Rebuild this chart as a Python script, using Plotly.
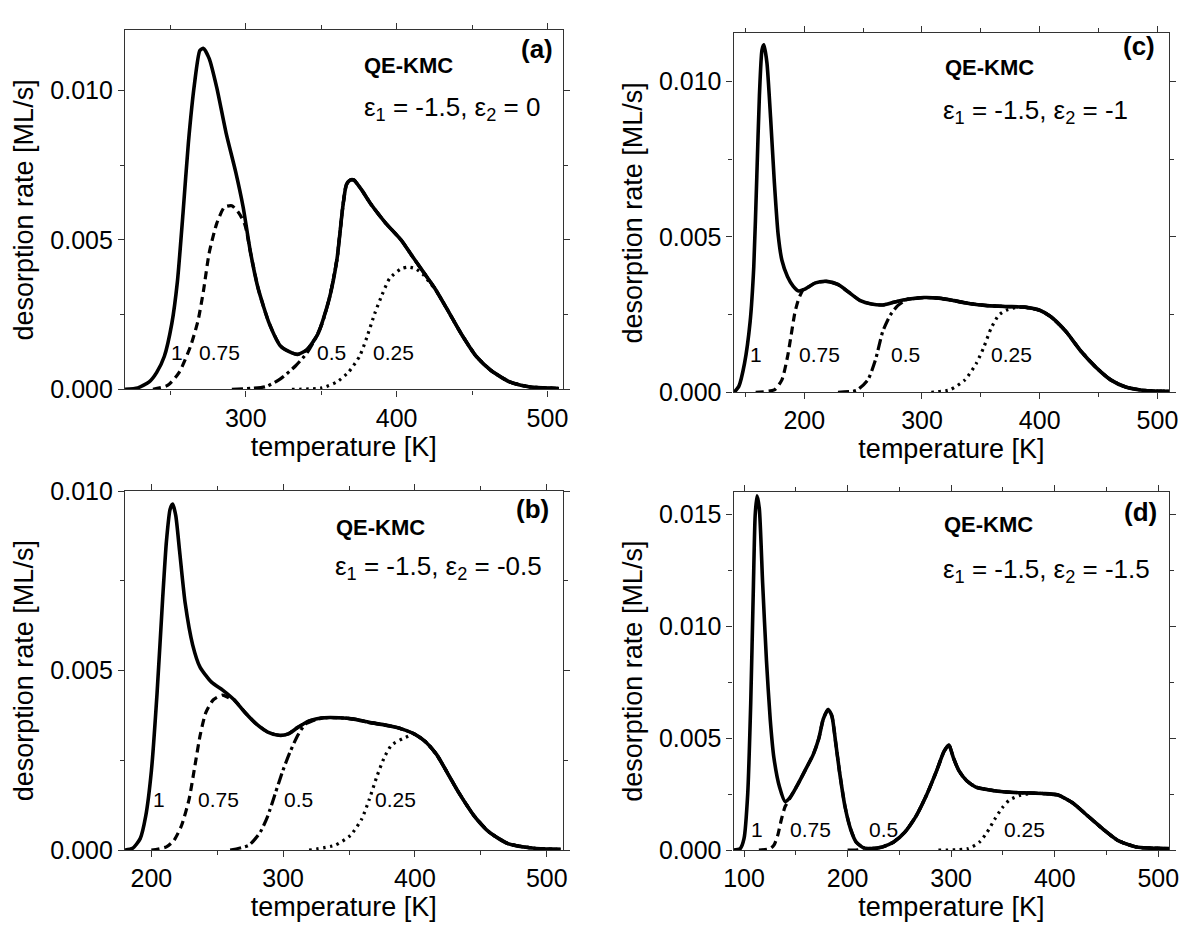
import plotly.graph_objects as go

FONT = "Liberation Sans, Arial, sans-serif"

# ---------------- panel (a): eps1=-1.5, eps2=0 ----------------
a_T_full = [219.8, 228.5, 236, 241, 246, 251, 254.7, 258.4, 262, 266, 269.6, 272, 275.8, 280.8, 287, 293.3,
            298.3, 303.2, 308.2, 315.7, 323.2, 330.6, 334.4, 340.6, 348, 355.5, 360.5, 364.3, 366.7, 369.2,
            371.7, 376.7, 382.9, 392.9, 402.9, 410.3, 417.8, 425.3, 432.8, 442.7, 452.7, 462.6, 475, 487.5, 507.5]
a_v_full = [0, 0.00005, 0.00025, 0.00057, 0.0011, 0.0022, 0.0036, 0.00587, 0.00825, 0.0102, 0.01133, 0.0114,
            0.01106, 0.01009, 0.00857, 0.00728, 0.00609, 0.00457, 0.00338, 0.00219, 0.00144, 0.00122, 0.00117,
            0.00133, 0.00187, 0.00306, 0.00436, 0.00609, 0.00684, 0.0070, 0.0070, 0.00668, 0.0062, 0.00555,
            0.0050, 0.00446, 0.00392, 0.00338, 0.00274, 0.00187, 0.00111, 0.00063, 0.00025, 0.00009, 0.00003]
a_T_075 = [238.5, 248.4, 255.9, 263.4, 268.4, 272, 275.8, 280.8, 285.8, 290.8, 295.8, 299.5]
a_v_075 = [0, 0.00014, 0.00057, 0.00144, 0.0023, 0.0033, 0.00457, 0.00555, 0.00609, 0.00614, 0.00587, 0.0055]
a_T_050 = [290.8, 313.2, 323.2, 333.1, 340.6, 345.6, 350.6]
a_v_050 = [0, 0.00009, 0.00036, 0.00079, 0.00122, 0.00165, 0.0022]
a_T_025 = [330.6, 350.6, 360.5, 368, 375.5, 380.4, 385.4, 390.4, 395.4, 402.9, 407.8, 412.8, 418, 423]
a_v_025 = [0, 0.00005, 0.00025, 0.00057, 0.00111, 0.00176, 0.00252, 0.00317, 0.00371, 0.00403, 0.00409,
           0.00403, 0.00382, 0.0035]

# ---------------- panel (c): eps1=-1.5, eps2=-1 ----------------
c_T_full = [140.3, 144.4, 149.2, 154, 157.1, 159.7, 161.9, 164.1, 165.7, 168.3, 171.4, 174.6, 177.8, 181,
            185.7, 190.5, 195.2, 200, 209.5, 219, 228.6, 238.1, 247.6, 257.1, 266.7, 276.2, 288.9, 301.6,
            314.3, 327, 339.7, 355.6, 371.4, 387.3, 400, 409.5, 422.2, 434.9, 447.6, 460.3, 473, 488.9, 510]
c_v_full = [0, 0.00019, 0.00092, 0.00227, 0.00404, 0.00696, 0.00956, 0.01102, 0.01118, 0.0106, 0.00883,
            0.00675, 0.00508, 0.00425, 0.00373, 0.00342, 0.00326, 0.00331, 0.00352, 0.00357, 0.00347,
            0.00321, 0.00295, 0.00284, 0.00281, 0.0029, 0.0030, 0.00305, 0.00303, 0.00295, 0.00286,
            0.00279, 0.00276, 0.00274, 0.00264, 0.00243, 0.00196, 0.00133, 0.00081, 0.0004, 0.00017,
            0.00006, 0.00003]
c_T_075 = [158.7, 174.6, 181, 185.7, 188.9, 192.1, 195.2, 199]
c_v_075 = [0, 0.00008, 0.0004, 0.00113, 0.00185, 0.00258, 0.0030, 0.0033]
c_T_050 = [228.6, 244.4, 254, 260.3, 266.7, 273, 279.4, 288]
c_v_050 = [0, 0.00006, 0.0004, 0.00102, 0.00196, 0.00248, 0.00279, 0.0030]
c_T_025 = [307.9, 323.8, 336.5, 346, 352.4, 358.7, 365.1, 371.4, 381, 386]
c_v_025 = [0, 0.00008, 0.0004, 0.00092, 0.00144, 0.00206, 0.00248, 0.00264, 0.00274, 0.00274]

# ---------------- panel (b): eps1=-1.5, eps2=-0.5 ----------------
b_T_full = [180, 185.8, 191.5, 195.7, 200, 204.3, 208.5, 211.4, 214.2, 216.2, 218.5, 221.4, 225.6, 231.3,
            237, 245.6, 254.1, 262.7, 271.2, 279.8, 288.3, 296.9, 304, 311.1, 319.7, 331.1, 342.5, 353.8,
            365.2, 376.6, 388, 399.4, 408, 416.5, 425.1, 433.6, 445, 456.4, 470.7, 490.6, 510.5]
b_v_full = [0, 0.00005, 0.00032, 0.00095, 0.00221, 0.00437, 0.00698, 0.0086, 0.0095, 0.00964, 0.00932,
            0.00833, 0.00689, 0.00572, 0.00509, 0.00468, 0.00446, 0.00419, 0.00383, 0.00351, 0.00329,
            0.0032, 0.00324, 0.00342, 0.0036, 0.00369, 0.00369, 0.00365, 0.00356, 0.00349, 0.0034,
            0.00324, 0.00302, 0.00266, 0.00212, 0.00158, 0.00095, 0.0005, 0.00018, 0.00005, 0.00002]
b_T_075 = [200, 211.4, 217.1, 222.8, 228.5, 232.8, 237, 241.3, 247, 254.1, 261]
b_v_075 = [0, 0.00009, 0.00027, 0.00068, 0.0014, 0.0023, 0.0032, 0.00383, 0.00419, 0.00432, 0.0042]
b_T_050 = [259.8, 274.1, 282.6, 288.3, 294, 299.7, 305.4, 311.1, 316.8, 322]
b_v_050 = [0, 0.00014, 0.0005, 0.00095, 0.00158, 0.00221, 0.00275, 0.0032, 0.00351, 0.0036]
b_T_025 = [319.7, 339.6, 351, 359.5, 365.2, 370.9, 376.6, 382.3, 390.9, 399]
b_v_025 = [0, 0.00014, 0.00041, 0.00086, 0.0014, 0.00203, 0.00257, 0.00293, 0.00311, 0.00324]

# ---------------- panel (d): eps1=-1.5, eps2=-1.5 ----------------
d_T_full = [89.9, 96.4, 100, 103.6, 106.5, 109, 110.8, 112.6, 114.8, 118, 121.7, 125.3, 128.9, 134.3, 139.7,
            145.1, 152.3, 159.6, 166.8, 172.2, 176.5, 181.2, 184.8, 188.4, 192.1, 197.5, 202.9, 208.3,
            215.5, 222.7, 233.6, 244.4, 255.2, 266.1, 276.9, 285.9, 293.1, 297.8, 302.2, 307.6, 314.8,
            323.8, 338.3, 352.7, 370.8, 388.8, 403.2, 417.7, 432.1, 446.6, 461, 479, 510.5]
d_v_full = [0, 0.00007, 0.00051, 0.00253, 0.00658, 0.01164, 0.01497, 0.01584, 0.01526, 0.01193, 0.00846,
            0.00586, 0.00412, 0.00282, 0.00217, 0.00239, 0.00297, 0.00362, 0.00427, 0.00499, 0.00586,
            0.00629, 0.0060, 0.00485, 0.00354, 0.00195, 0.00094, 0.00036, 0.0001, 0.00007, 0.00014,
            0.00036, 0.0008, 0.00152, 0.00253, 0.00354, 0.00441, 0.0047, 0.00412, 0.00354, 0.00311,
            0.00282, 0.00268, 0.0026, 0.00256, 0.00253, 0.00246, 0.0021, 0.00152, 0.00094, 0.00043,
            0.00014, 0.00007]
d_T_075 = [114.4, 125.3, 128.9, 132.5, 136.1, 139.7, 143]
d_v_075 = [0, 0.00007, 0.00022, 0.00065, 0.00137, 0.00195, 0.0022]
d_T_050 = [200, 210, 216]
d_v_050 = [0, 0.00001, 0.0001]
d_T_025 = [287.7, 316.6, 327.4, 334.7, 341.9, 349.1, 356.3, 367.1, 378]
d_v_025 = [0, 0.00007, 0.00036, 0.0008, 0.00137, 0.00188, 0.00224, 0.00246, 0.00253]

coverages = ["1", "0.75", "0.5", "0.25"]
panels = [
    dict(key="a", eps2="0", full=(a_T_full, a_v_full), parts=[(a_T_075, a_v_075), (a_T_050, a_v_050), (a_T_025, a_v_025)],
         xr=[220, 510], yr=[0, 0.012], lab_T=[254.7, 282.8, 356.8, 397.9], lab_v=0.00122,
         tag=(493, 0.01138), qe=(408, 0.01084), eps=(436.5, 0.00938)),
    dict(key="c", eps2="-1", full=(c_T_full, c_v_full), parts=[(c_T_075, c_v_075), (c_T_050, c_v_050), (c_T_025, c_v_025)],
         xr=[140, 510], yr=[0, 0.01155], lab_T=[159.4, 212.7, 285.7, 376.2], lab_v=0.00123,
         tag=(484, 0.01113), qe=(357, 0.01045), eps=(396, 0.00904)),
    dict(key="b", eps2="-0.5", full=(b_T_full, b_v_full), parts=[(b_T_075, b_v_075), (b_T_050, b_v_050), (b_T_025, b_v_025)],
         xr=[180, 512], yr=[0, 0.010], lab_T=[205.7, 250.7, 311.7, 385.2], lab_v=0.0014,
         tag=(489.2, 0.0095), qe=(373.8, 0.0090), eps=(418, 0.00788)),
    dict(key="d", eps2="-1.5", full=(d_T_full, d_v_full), parts=[(d_T_075, d_v_075), (d_T_050, d_v_050), (d_T_025, d_v_025)],
         xr=[90, 510.5], yr=[0, 0.016], lab_T=[112.6, 164.3, 234.3, 370.8], lab_v=0.00094,
         tag=(482.7, 0.01512), qe=(336.5, 0.01457), eps=(392.4, 0.01251)),
]

W, H = 1191, 933
# frame boxes in page pixels (left, right, top, bottom)
boxes = [(117, 562, 17, 387), (736, 1179, 20, 390), (117, 562, 492, 862), (736, 1179, 493, 862)]

dashes = ["8px,5px", "11px,4px,3px,4px", "2.5px,4.5px"]

fig = go.Figure()
annotations = []
layout = {}
for i, p in enumerate(panels):
    n = "" if i == 0 else str(i + 1)
    xa, ya = "x" + n, "y" + n
    T_full, v_full = p["full"]
    for j, (Tp, vp) in enumerate(p["parts"]):
        tail_T = [t for t in T_full if t > Tp[-1]]
        tail_v = [v for t, v in zip(T_full, v_full) if t > Tp[-1]]
        fig.add_trace(go.Scatter(x=Tp + tail_T, y=vp + tail_v, mode="lines", xaxis=xa, yaxis=ya,
                                 line=dict(color="black", width=3.2, dash=dashes[j], shape="spline", smoothing=0.6),
                                 showlegend=False, hoverinfo="skip"))
    fig.add_trace(go.Scatter(x=T_full, y=v_full, mode="lines", xaxis=xa, yaxis=ya,
                             line=dict(color="black", width=3.6, shape="spline", smoothing=0.6),
                             showlegend=False))
    l, r, t, b = boxes[i]
    axcommon = dict(showline=True, linecolor="#333", linewidth=1.3, mirror="ticks", ticks="outside",
                    ticklen=6, tickwidth=1.2, tickcolor="#333", showgrid=False, zeroline=False,
                    ticklabeloverflow="allow",
                    tickfont=dict(family=FONT, size=25, color="black"))
    layout["xaxis" + n] = dict(axcommon, domain=[l / W, r / W], range=p["xr"], anchor=ya,
                               dtick=100, tick0=0,
                               minor=dict(ticks="outside", ticklen=4, dtick=50, tick0=0, tickcolor="#333", tickwidth=1.2),
                               title=dict(text="temperature [K]", font=dict(family=FONT, size=27, color="black"), standoff=5))
    layout["yaxis" + n] = dict(axcommon, domain=[1 - b / H, 1 - t / H], range=p["yr"], anchor=xa,
                               dtick=0.005, tick0=0, tickformat=".3f",
                               minor=dict(ticks="outside", ticklen=4, dtick=0.0025, tick0=0, tickcolor="#333", tickwidth=1.2),
                               title=dict(text="desorption rate [ML/s]", font=dict(family=FONT, size=27, color="black"), standoff=8))
    for lab, Tl in zip(coverages, p["lab_T"]):
        annotations.append(dict(x=Tl, y=p["lab_v"], xref=xa, yref=ya, text=lab, showarrow=False,
                                font=dict(family=FONT, size=21, color="black"), xanchor="center", yanchor="middle"))
    annotations.append(dict(x=p["tag"][0], y=p["tag"][1], xref=xa, yref=ya, text="<b>(" + p["key"] + ")</b>",
                            showarrow=False, font=dict(family=FONT, size=26, color="black"),
                            xanchor="center", yanchor="middle"))
    annotations.append(dict(x=p["qe"][0], y=p["qe"][1], xref=xa, yref=ya, text="<b>QE-KMC</b>",
                            showarrow=False, font=dict(family=FONT, size=22, color="black"),
                            xanchor="center", yanchor="middle"))
    annotations.append(dict(x=p["eps"][0], y=p["eps"][1], xref=xa, yref=ya,
                            text="ε<sub>1</sub> = -1.5, ε<sub>2</sub> = " + p["eps2"],
                            showarrow=False, font=dict(family=FONT, size=26, color="black"),
                            xanchor="center", yanchor="middle"))

fig.update_layout(width=W, height=H, margin=dict(l=0, r=0, t=0, b=0), plot_bgcolor="white",
                  paper_bgcolor="white", annotations=annotations, **layout)
fig.write_html("out.html", config={"displayModeBar": False},
               post_script="document.body.style.margin='0';document.body.style.overflow='hidden';")
